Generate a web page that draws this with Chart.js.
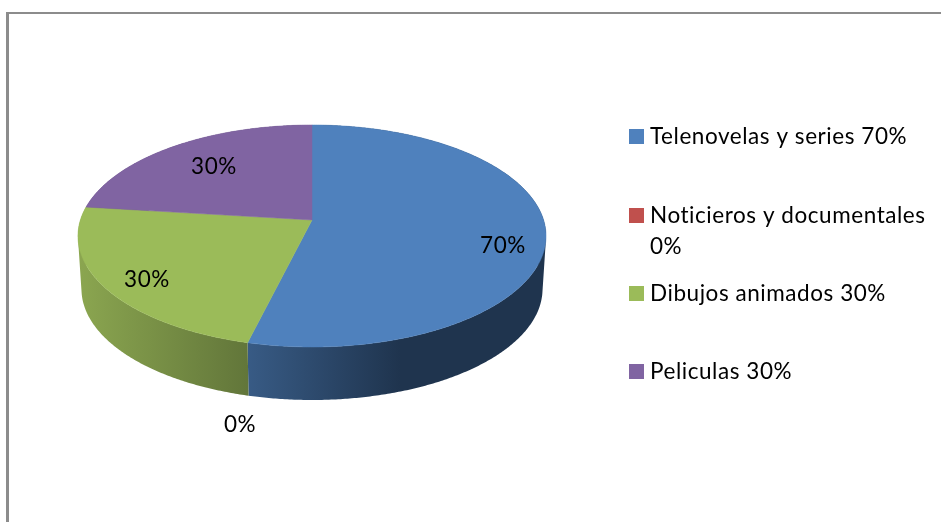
<!DOCTYPE html>
<html>
<head>
<meta charset="utf-8">
<style>html,body{margin:0;padding:0;background:#fff;overflow:hidden}canvas{display:block}</style>
<script src="https://cdn.jsdelivr.net/npm/chart.js@4/dist/chart.umd.min.js"></script>
</head>
<body>
<canvas id="c" width="941" height="522"></canvas>
<script>
const categories = ['Telenovelas y series', 'Noticieros y documentales', 'Dibujos animados', 'Peliculas'];
const values = [70, 0, 30, 30];
const topColors = ['#4f81bd', '#c0504d', '#9bbb59', '#8064a2'];
const sideLeft = ['#385b85', '#8a3a38', '#8ba650', '#5f4a7a'];
const sideRight = ['#1f344e', '#6a2c2a', '#62763a', '#4a3a60'];
const valueLabelAnchors = [[503, 246], [240, 425], [147, 280], [214, 167]];
const legendBoxTops = [129, 208, 286, 364];

const P = {cx: 312, cy: 220, A: 231.6, B: 108.7, q: 0.144, depth: 53, baseScale: 0.985};
const FONT = '22.5px Lato, Carlito, sans-serif';
const SPACING = '0.55px';

function project(angle, k) {
  const a = angle + Math.PI / 2;
  const x = Math.sin(a) * k, y = -Math.cos(a) * k;
  const d = 1 - P.q * y;
  return [P.cx + P.A * x / d, P.cy + P.B * y / d];
}
function arcPoints(s, e) {
  const n = Math.max(2, Math.ceil((e - s) / (Math.PI / 360)));
  const out = [];
  for (let i = 0; i <= n; i++) out.push(project(s + (e - s) * i / n, 1));
  return out;
}
function base(p) {
  return [P.cx + (p[0] - P.cx) * P.baseScale, p[1] + P.depth];
}
function addQuad(ctx, q) {
  let area = 0;
  q.forEach((p, i) => {
    const r = q[(i + 1) % q.length];
    area += p[0] * r[1] - r[0] * p[1];
  });
  const o = area < 0 ? q.slice().reverse() : q;
  o.forEach((p, i) => i ? ctx.lineTo(p[0], p[1]) : ctx.moveTo(p[0], p[1]));
  ctx.closePath();
}

const pie3d = {
  id: 'pie3d',
  beforeDatasetsDraw(chart) {
    const ctx = chart.ctx;
    const arcs = chart.getDatasetMeta(0).data;
    // frame
    ctx.save();
    ctx.fillStyle = '#8c8c8c';
    ctx.fillRect(6, 12, 935, 2);
    ctx.fillRect(6, 12, 3, 510);
    ctx.restore();
    // side walls
    arcs.forEach((arc, i) => {
      if (arc.endAngle - arc.startAngle <= 0) return;
      const pts = arcPoints(arc.startAngle, arc.endAngle);
      const xs = pts.map(p => p[0]);
      const x0 = Math.min(...xs), x1 = Math.max(...xs);
      const g = ctx.createLinearGradient(x0, 0, i === 0 ? 400 : x1, 0);
      g.addColorStop(0, sideLeft[i]);
      g.addColorStop(1, sideRight[i]);
      ctx.beginPath();
      for (let j = 0; j + 1 < pts.length; j++) {
        addQuad(ctx, [pts[j], pts[j + 1], base(pts[j + 1]), base(pts[j])]);
      }
      ctx.fillStyle = g;
      ctx.fill('nonzero');
    });
    // top faces
    arcs.forEach((arc, i) => {
      if (arc.endAngle - arc.startAngle <= 0) return;
      const pts = arcPoints(arc.startAngle, arc.endAngle);
      ctx.beginPath();
      ctx.moveTo(P.cx, P.cy);
      pts.forEach(p => ctx.lineTo(p[0], p[1]));
      ctx.closePath();
      ctx.fillStyle = topColors[i];
      ctx.strokeStyle = topColors[i];
      ctx.lineWidth = 0.5;
      ctx.fill();
      ctx.stroke();
    });
    // value labels
    ctx.save();
    ctx.font = FONT;
    ctx.letterSpacing = SPACING;
    ctx.fillStyle = '#000';
    ctx.textAlign = 'center';
    ctx.textBaseline = 'middle';
    values.forEach((v, i) => {
      const a = valueLabelAnchors[i];
      ctx.fillText(v + '%', a[0], a[1]);
    });
    // legend
    ctx.textAlign = 'left';
    ctx.textBaseline = 'alphabetic';
    chart.data.labels.forEach((lab, i) => {
      const top = legendBoxTops[i];
      ctx.fillStyle = topColors[i];
      ctx.fillRect(629, top, 15, 15);
      ctx.fillStyle = '#000';
      const txt = lab + ' ' + values[i] + '%';
      if (ctx.measureText(txt).width > 285) {
        ctx.fillText(lab, 650, top + 15);
        ctx.fillText(values[i] + '%', 650, top + 46);
      } else {
        ctx.fillText(txt, 650, top + 15);
      }
    });
    ctx.restore();
    return false;
  }
};

new Chart(document.getElementById('c'), {
  type: 'pie',
  data: {
    labels: categories,
    datasets: [{data: values, backgroundColor: topColors, borderWidth: 0}]
  },
  options: {
    responsive: false,
    animation: false,
    plugins: {legend: {display: false}, tooltip: {enabled: false}}
  },
  plugins: [pie3d]
});
</script>
</body>
</html>
